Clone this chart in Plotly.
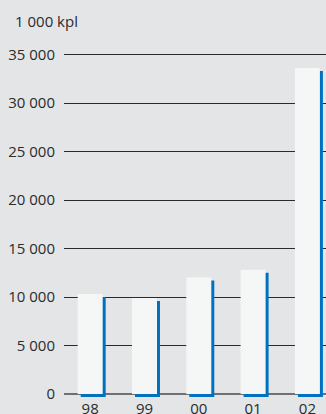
import plotly.graph_objects as go

# data
years = ["98", "99", "00", "01", "02"]
values = [10300, 9900, 12000, 12800, 33600]
y_ticks = [0, 5000, 10000, 15000, 20000, 25000, 30000, 35000]
y_tick_labels = ["0", "5 000", "10 000", "15 000", "20 000", "25 000", "30 000", "35 000"]
unit_label = "1 000 kpl"

pos = list(range(len(years)))
bar_w = 0.46
shift_x = 0.055   # shadow offset right (~3px)
shift_y = 310     # shadow offset down (~3px)

fig = go.Figure()

# blue "shadow" bar, behind
fig.add_trace(go.Bar(
    x=pos, y=values,
    base=[-shift_y] * len(values),
    width=bar_w, offset=-bar_w / 2 + shift_x,
    marker=dict(color="#0071c1", line=dict(width=0)),
    hoverinfo="skip", showlegend=False,
))

# white bar in front
fig.add_trace(go.Bar(
    x=pos, y=values,
    width=bar_w, offset=-bar_w / 2,
    marker=dict(color="#f5f7f6", line=dict(width=0)),
    showlegend=False,
))

fig.update_layout(
    width=326, height=414,
    margin=dict(l=64, r=0, t=40, b=16),
    paper_bgcolor="#e4e5e7",
    plot_bgcolor="#e4e5e7",
    barmode="overlay",
    font=dict(family="Open Sans", size=15, color="#2b2b2b"),
    xaxis=dict(
        range=[-0.4825, 4.342],
        tickvals=pos, ticktext=years,
        showgrid=False, zeroline=False, showline=False,
        ticks="", ticklabelstandoff=0, automargin=False,
        fixedrange=True,
    ),
    yaxis=dict(
        range=[-412, 36495],
        tickvals=y_ticks, ticktext=y_tick_labels,
        showgrid=True, gridcolor="#2a2a2a", gridwidth=1,
        zeroline=True, zerolinecolor="#707070", zerolinewidth=1.5,
        showline=False, ticks="", ticklabelstandoff=8, automargin=False,
        fixedrange=True,
    ),
    annotations=[dict(
        text=unit_label, xref="paper", yref="paper",
        x=-0.1947, y=1.053, xanchor="left", yanchor="middle",
        showarrow=False, font=dict(size=15, color="#2b2b2b"),
    )],
)

# drop the default page margin so the figure fills the window exactly
fig.write_html(
    "out.html",
    config={"displayModeBar": False},
    post_script="document.body.style.margin='0';document.body.style.overflow='hidden';",
)
